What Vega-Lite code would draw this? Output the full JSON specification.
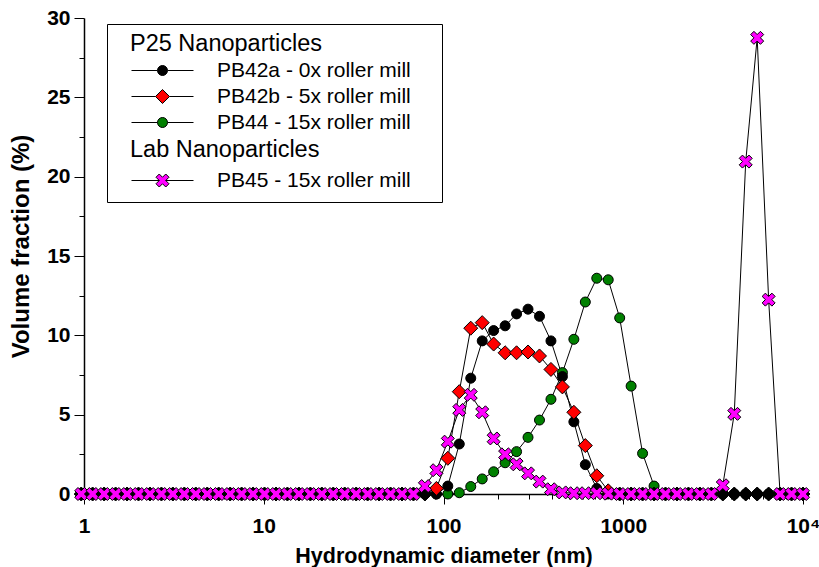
{
  "$schema": "https://vega.github.io/schema/vega-lite/v6.json",
  "autosize": {"type": "none"},
  "padding": {"left": 84, "top": 18, "right": 16, "bottom": 73},
  "width": 719,
  "height": 476,
  "config": {
    "font": "Liberation Sans",
    "view": {"stroke": null},
    "axis": {"grid": false, "domainColor": "black", "domainWidth": 1.5, "tickColor": "black", "tickWidth": 1, "labelColor": "black", "titleColor": "black", "labelFont": "Liberation Sans", "titleFont": "Liberation Sans", "labelFontWeight": "bold", "titleFontWeight": "bold", "labelFontSize": 21, "titleFontSize": 21.5, "labelOverlap": false, "labelFlush": false}
  },
  "data": {"values": [
    {"d":0.9649,"v":0,"s":"g"},{"d":1.117,"v":0,"s":"g"},{"d":1.294,"v":0,"s":"g"},{"d":1.499,"v":0,"s":"g"},{"d":1.736,"v":0,"s":"g"},{"d":2.01,"v":0,"s":"g"},{"d":2.328,"v":0,"s":"g"},{"d":2.696,"v":0,"s":"g"},{"d":3.122,"v":0,"s":"g"},{"d":3.615,"v":0,"s":"g"},{"d":4.187,"v":0,"s":"g"},{"d":4.849,"v":0,"s":"g"},{"d":5.615,"v":0,"s":"g"},{"d":6.503,"v":0,"s":"g"},{"d":7.531,"v":0,"s":"g"},{"d":8.721,"v":0,"s":"g"},{"d":10.1,"v":0,"s":"g"},{"d":11.7,"v":0,"s":"g"},{"d":13.54,"v":0,"s":"g"},{"d":15.69,"v":0,"s":"g"},{"d":18.17,"v":0,"s":"g"},{"d":21.04,"v":0,"s":"g"},{"d":24.36,"v":0,"s":"g"},{"d":28.21,"v":0,"s":"g"},{"d":32.67,"v":0,"s":"g"},{"d":37.84,"v":0,"s":"g"},{"d":43.82,"v":0,"s":"g"},{"d":50.75,"v":0,"s":"g"},{"d":58.77,"v":0,"s":"g"},{"d":68.06,"v":0,"s":"g"},{"d":78.82,"v":0,"s":"g"},{"d":91.28,"v":0,"s":"g"},{"d":105.7,"v":0,"s":"g"},{"d":122.4,"v":0.08,"s":"g"},{"d":141.8,"v":0.47,"s":"g"},{"d":164.2,"v":0.95,"s":"g"},{"d":190.1,"v":1.4,"s":"g"},{"d":220.2,"v":1.97,"s":"g"},{"d":255,"v":2.67,"s":"g"},{"d":295.3,"v":3.57,"s":"g"},{"d":342,"v":4.66,"s":"g"},{"d":396.1,"v":5.97,"s":"g"},{"d":458.7,"v":7.65,"s":"g"},{"d":531.2,"v":9.75,"s":"g"},{"d":615.1,"v":12.1,"s":"g"},{"d":712.4,"v":13.6,"s":"g"},{"d":825,"v":13.5,"s":"g"},{"d":955.4,"v":11.1,"s":"g"},{"d":1106,"v":6.8,"s":"g"},{"d":1281,"v":2.56,"s":"g"},{"d":1484,"v":0.5,"s":"g"},{"d":1718,"v":0,"s":"g"},{"d":1990,"v":0,"s":"g"},{"d":2305,"v":0,"s":"g"},{"d":2669,"v":0,"s":"g"},{"d":3091,"v":0,"s":"g"},{"d":3580,"v":0,"s":"g"},{"d":4145,"v":0,"s":"g"},{"d":4801,"v":0,"s":"g"},{"d":5560,"v":0,"s":"g"},{"d":6439,"v":0,"s":"g"},{"d":7456,"v":0,"s":"g"},{"d":8635,"v":0,"s":"g"},{"d":10000,"v":0,"s":"g"},
    {"d":0.9649,"v":0,"s":"a"},{"d":1.117,"v":0,"s":"a"},{"d":1.294,"v":0,"s":"a"},{"d":1.499,"v":0,"s":"a"},{"d":1.736,"v":0,"s":"a"},{"d":2.01,"v":0,"s":"a"},{"d":2.328,"v":0,"s":"a"},{"d":2.696,"v":0,"s":"a"},{"d":3.122,"v":0,"s":"a"},{"d":3.615,"v":0,"s":"a"},{"d":4.187,"v":0,"s":"a"},{"d":4.849,"v":0,"s":"a"},{"d":5.615,"v":0,"s":"a"},{"d":6.503,"v":0,"s":"a"},{"d":7.531,"v":0,"s":"a"},{"d":8.721,"v":0,"s":"a"},{"d":10.1,"v":0,"s":"a"},{"d":11.7,"v":0,"s":"a"},{"d":13.54,"v":0,"s":"a"},{"d":15.69,"v":0,"s":"a"},{"d":18.17,"v":0,"s":"a"},{"d":21.04,"v":0,"s":"a"},{"d":24.36,"v":0,"s":"a"},{"d":28.21,"v":0,"s":"a"},{"d":32.67,"v":0,"s":"a"},{"d":37.84,"v":0,"s":"a"},{"d":43.82,"v":0,"s":"a"},{"d":50.75,"v":0,"s":"a"},{"d":58.77,"v":0,"s":"a"},{"d":68.06,"v":0,"s":"a"},{"d":78.82,"v":0,"s":"a"},{"d":91.28,"v":0,"s":"a"},{"d":105.7,"v":0.5,"s":"a"},{"d":122.4,"v":3.15,"s":"a"},{"d":141.8,"v":7.3,"s":"a"},{"d":164.2,"v":9.65,"s":"a"},{"d":190.1,"v":10.3,"s":"a"},{"d":220.2,"v":10.6,"s":"a"},{"d":255,"v":11.35,"s":"a"},{"d":295.3,"v":11.65,"s":"a"},{"d":342,"v":11.2,"s":"a"},{"d":396.1,"v":9.65,"s":"a"},{"d":458.7,"v":7.4,"s":"a"},{"d":531.2,"v":4.55,"s":"a"},{"d":615.1,"v":1.85,"s":"a"},{"d":712.4,"v":0.35,"s":"a"},{"d":825,"v":0,"s":"a"},{"d":955.4,"v":0,"s":"a"},{"d":1106,"v":0,"s":"a"},{"d":1281,"v":0,"s":"a"},{"d":1484,"v":0,"s":"a"},{"d":1718,"v":0,"s":"a"},{"d":1990,"v":0,"s":"a"},{"d":2305,"v":0,"s":"a"},{"d":2669,"v":0,"s":"a"},{"d":3091,"v":0,"s":"a"},{"d":3580,"v":0,"s":"a"},{"d":4145,"v":0,"s":"a"},{"d":4801,"v":0,"s":"a"},{"d":5560,"v":0,"s":"a"},{"d":6439,"v":0,"s":"a"},{"d":7456,"v":0,"s":"a"},{"d":8635,"v":0,"s":"a"},{"d":10000,"v":0,"s":"a"},
    {"d":0.9649,"v":0,"s":"b"},{"d":1.117,"v":0,"s":"b"},{"d":1.294,"v":0,"s":"b"},{"d":1.499,"v":0,"s":"b"},{"d":1.736,"v":0,"s":"b"},{"d":2.01,"v":0,"s":"b"},{"d":2.328,"v":0,"s":"b"},{"d":2.696,"v":0,"s":"b"},{"d":3.122,"v":0,"s":"b"},{"d":3.615,"v":0,"s":"b"},{"d":4.187,"v":0,"s":"b"},{"d":4.849,"v":0,"s":"b"},{"d":5.615,"v":0,"s":"b"},{"d":6.503,"v":0,"s":"b"},{"d":7.531,"v":0,"s":"b"},{"d":8.721,"v":0,"s":"b"},{"d":10.1,"v":0,"s":"b"},{"d":11.7,"v":0,"s":"b"},{"d":13.54,"v":0,"s":"b"},{"d":15.69,"v":0,"s":"b"},{"d":18.17,"v":0,"s":"b"},{"d":21.04,"v":0,"s":"b"},{"d":24.36,"v":0,"s":"b"},{"d":28.21,"v":0,"s":"b"},{"d":32.67,"v":0,"s":"b"},{"d":37.84,"v":0,"s":"b"},{"d":43.82,"v":0,"s":"b"},{"d":50.75,"v":0,"s":"b"},{"d":58.77,"v":0,"s":"b"},{"d":68.06,"v":0,"s":"b"},{"d":78.82,"v":0,"s":"b"},{"d":91.28,"v":0.35,"s":"b"},{"d":105.7,"v":2.25,"s":"b"},{"d":122.4,"v":6.45,"s":"b"},{"d":141.8,"v":10.45,"s":"b"},{"d":164.2,"v":10.8,"s":"b"},{"d":190.1,"v":9.45,"s":"b"},{"d":220.2,"v":8.9,"s":"b"},{"d":255,"v":8.9,"s":"b"},{"d":295.3,"v":8.95,"s":"b"},{"d":342,"v":8.7,"s":"b"},{"d":396.1,"v":7.85,"s":"b"},{"d":458.7,"v":6.75,"s":"b"},{"d":531.2,"v":5.15,"s":"b"},{"d":615.1,"v":3.05,"s":"b"},{"d":712.4,"v":1.15,"s":"b"},{"d":825,"v":0.2,"s":"b"},{"d":955.4,"v":0,"s":"b"},{"d":1106,"v":0,"s":"b"},{"d":1281,"v":0,"s":"b"},{"d":1484,"v":0,"s":"b"},{"d":1718,"v":0,"s":"b"},{"d":1990,"v":0,"s":"b"},{"d":2305,"v":0,"s":"b"},{"d":2669,"v":0,"s":"b"},{"d":3091,"v":0,"s":"b"},{"d":3580,"v":0,"s":"b"},{"d":4145,"v":0,"s":"b"},{"d":4801,"v":0,"s":"b"},{"d":5560,"v":0,"s":"b"},{"d":6439,"v":0,"s":"b"},{"d":7456,"v":0,"s":"b"},{"d":8635,"v":0,"s":"b"},{"d":10000,"v":0,"s":"b"},
    {"d":0.9649,"v":0,"s":"m"},{"d":1.117,"v":0,"s":"m"},{"d":1.294,"v":0,"s":"m"},{"d":1.499,"v":0,"s":"m"},{"d":1.736,"v":0,"s":"m"},{"d":2.01,"v":0,"s":"m"},{"d":2.328,"v":0,"s":"m"},{"d":2.696,"v":0,"s":"m"},{"d":3.122,"v":0,"s":"m"},{"d":3.615,"v":0,"s":"m"},{"d":4.187,"v":0,"s":"m"},{"d":4.849,"v":0,"s":"m"},{"d":5.615,"v":0,"s":"m"},{"d":6.503,"v":0,"s":"m"},{"d":7.531,"v":0,"s":"m"},{"d":8.721,"v":0,"s":"m"},{"d":10.1,"v":0,"s":"m"},{"d":11.7,"v":0,"s":"m"},{"d":13.54,"v":0,"s":"m"},{"d":15.69,"v":0,"s":"m"},{"d":18.17,"v":0,"s":"m"},{"d":21.04,"v":0,"s":"m"},{"d":24.36,"v":0,"s":"m"},{"d":28.21,"v":0,"s":"m"},{"d":32.67,"v":0,"s":"m"},{"d":37.84,"v":0,"s":"m"},{"d":43.82,"v":0,"s":"m"},{"d":50.75,"v":0,"s":"m"},{"d":58.77,"v":0,"s":"m"},{"d":68.06,"v":0,"s":"m"},{"d":78.82,"v":0.5,"s":"m"},{"d":91.28,"v":1.5,"s":"m"},{"d":105.7,"v":3.3,"s":"m"},{"d":122.4,"v":5.3,"s":"m"},{"d":141.8,"v":6.25,"s":"m"},{"d":164.2,"v":5.15,"s":"m"},{"d":190.1,"v":3.5,"s":"m"},{"d":220.2,"v":2.5,"s":"m"},{"d":255,"v":1.87,"s":"m"},{"d":295.3,"v":1.3,"s":"m"},{"d":342,"v":0.78,"s":"m"},{"d":396.1,"v":0.3,"s":"m"},{"d":458.7,"v":0.1,"s":"m"},{"d":531.2,"v":0.05,"s":"m"},{"d":615.1,"v":0.05,"s":"m"},{"d":712.4,"v":0.05,"s":"m"},{"d":825,"v":0.02,"s":"m"},{"d":955.4,"v":0,"s":"m"},{"d":1106,"v":0,"s":"m"},{"d":1281,"v":0,"s":"m"},{"d":1484,"v":0,"s":"m"},{"d":1718,"v":0,"s":"m"},{"d":1990,"v":0,"s":"m"},{"d":2305,"v":0,"s":"m"},{"d":2669,"v":0,"s":"m"},{"d":3091,"v":0,"s":"m"},{"d":3580,"v":0.55,"s":"m"},{"d":4145,"v":5.05,"s":"m"},{"d":4801,"v":20.95,"s":"m"},{"d":5560,"v":28.75,"s":"m"},{"d":6439,"v":12.25,"s":"m"},{"d":7456,"v":0,"s":"m"},{"d":8635,"v":0,"s":"m"},{"d":10000,"v":0,"s":"m"}
  ]},
  "encoding": {
    "x": {"field": "d", "type": "quantitative",
      "scale": {"type": "log", "domain": [1, 10000], "nice": false},
      "axis": {"title": "Hydrodynamic diameter (nm)", "format": "d",
        "values": [1,2,3,4,5,6,7,8,9,10,20,30,40,50,60,70,80,90,100,200,300,400,500,600,700,800,900,1000,2000,3000,4000,5000,6000,7000,8000,9000,10000],
        "labelExpr": "datum.value == 10000 ? '10⁴' : (datum.value == 1 || datum.value == 10 || datum.value == 100 || datum.value == 1000) ? datum.label : ''",
        "tickSize": {"condition": {"test": "datum.value == 1 || datum.value == 10 || datum.value == 100 || datum.value == 1000 || datum.value == 10000", "value": 10}, "value": 5},
        "labelPadding": 11, "titlePadding": 9}},
    "y": {"field": "v", "type": "quantitative",
      "scale": {"domain": [0, 30], "nice": false},
      "axis": {"title": "Volume fraction (%)", "titleFontSize": 24, "titleY": 228,
        "values": [0,2.5,5,7.5,10,12.5,15,17.5,20,22.5,25,27.5,30],
        "labelExpr": "datum.value % 5 == 0 ? datum.label : ''",
        "tickSize": {"condition": {"test": "datum.value % 5 == 0", "value": 10}, "value": 5},
        "labelPadding": 4, "titlePadding": 13}}
  },
  "layer": [
    {"mark": {"type": "line", "color": "black", "strokeWidth": 1},
     "encoding": {"detail": {"field": "s"}}},
    {"mark": {"type": "point", "filled": true, "stroke": "black", "strokeWidth": 1, "opacity": 1, "size": 100},
     "encoding": {
       "shape": {"field": "s", "type": "nominal", "legend": null,
         "scale": {"domain": ["a","b","g","m"],
           "range": [
             "M-1,0A1,1,0,1,1,1,0A1,1,0,1,1,-1,0Z",
             "M-1.4,0L0,-1.4L1.4,0L0,1.4Z",
             "M-1,0A1,1,0,1,1,1,0A1,1,0,1,1,-1,0Z",
             "M-1.3,-0.65L-0.65,-1.3L0,-0.65L0.65,-1.3L1.3,-0.65L0.65,0L1.3,0.65L0.65,1.3L0,0.65L-0.65,1.3L-1.3,0.65L-0.65,0Z"]}},
       "fill": {
         "condition": {"test": "datum.s === 'b' && datum.v === 0", "value": "black"},
         "field": "s", "type": "nominal",
         "scale": {"domain": ["h1","a","b","g","h2","m"], "range": ["transparent","black","#ff0000","#008000","transparent","#ff00ff"]},
         "legend": {
           "title": null, "orient": "none", "legendX": 23, "legendY": 6,
           "strokeColor": "black", "padding": 9, "rowPadding": 4,
           "labelFont": "Liberation Sans", "labelColor": "black", "labelLimit": 400,
           "labelFontSize": {"expr": "datum.value == 'h1' || datum.value == 'h2' ? 23.5 : 21"},
           "labelOffset": {"expr": "datum.value == 'h1' || datum.value == 'h2' ? -43 : 44"},
           "symbolOffset": 36,
           "symbolSize": 100, "symbolStrokeColor": "black", "symbolStrokeWidth": 1,
           "symbolOpacity": {"expr": "datum.value == 'h1' || datum.value == 'h2' ? 0 : 1"},
           "symbolType": {"expr": "datum.value == 'b' ? 'M53.6,0M-6.2,0L-1.4,0M1.4,0L6.2,0M-1.4,0L0,-1.4L1.4,0L0,1.4Z' : datum.value == 'm' ? 'M53.6,0M0,-2.6M0,2.0M-6.2,0L-0.65,0M0.65,0L6.2,0M-1.3,-0.65L-0.65,-1.3L0,-0.65L0.65,-1.3L1.3,-0.65L0.65,0L1.3,0.65L0.65,1.3L0,0.65L-0.65,1.3L-1.3,0.65L-0.65,0Z' : 'M53.6,0M-6.2,0L-1,0M1,0L6.2,0M-1,0A1,1,0,1,1,1,0A1,1,0,1,1,-1,0Z'"},
           "labelExpr": "datum.value == 'h1' ? 'P25 Nanoparticles' : datum.value == 'a' ? 'PB42a - 0x roller mill' : datum.value == 'b' ? 'PB42b - 5x roller mill' : datum.value == 'g' ? 'PB44 - 15x roller mill' : datum.value == 'h2' ? 'Lab Nanoparticles' : 'PB45 - 15x roller mill'"
         }
       }
     }}
  ]
}
